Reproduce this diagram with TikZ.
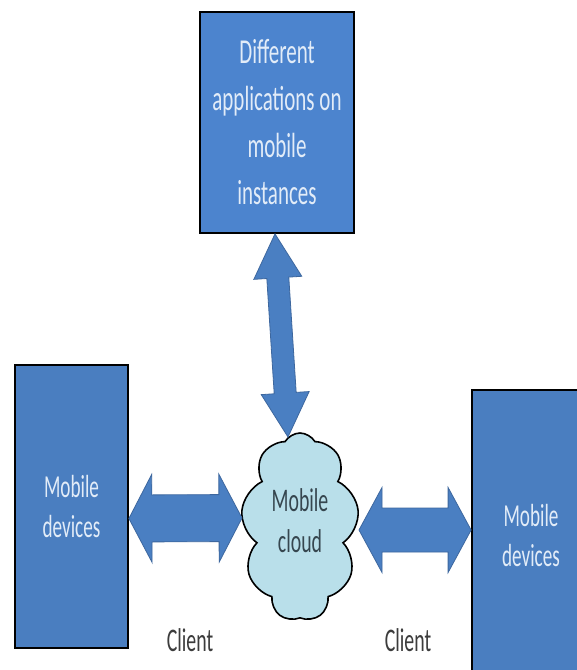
\documentclass[tikz,border=0pt]{standalone}
\usepackage{fontspec}
\setmainfont[FakeStretch=0.6]{Carlito}
\usetikzlibrary{calc,shapes.symbols}
\definecolor{boxblue}{HTML}{4A7EC0}
\definecolor{topblue}{HTML}{4C84CE}
\definecolor{arrblue}{HTML}{4A7FC2}
\definecolor{arredge}{HTML}{3D679E}
\definecolor{cloudfill}{HTML}{B9DFEA}
\definecolor{boxtext}{HTML}{E2ECF8}
\definecolor{darktext}{HTML}{3C3C3C}
\definecolor{cloudtext}{HTML}{36464F}
\tikzset{
  devbox/.style={draw=black, line width=1.8pt, fill=boxblue, text=boxtext, align=center,
    font=\fontsize{32}{40}\selectfont, inner sep=0pt},
  fatarrow/.style={draw=arredge, line width=0.8pt, fill=arrblue, line join=miter},
  lbl/.style={text=darktext, font=\fontsize{33}{36}\selectfont}
}
\newcommand\dblfatarrow[5]{%
  \draw[fatarrow] (#1)
    -- ($($(#1)!#5!(#2)$)!#4!90:(#2)$)
    -- ($($(#1)!#5!(#2)$)!#3!90:(#2)$)
    -- ($($(#2)!#5!(#1)$)!#3!-90:(#1)$)
    -- ($($(#2)!#5!(#1)$)!#4!-90:(#1)$)
    -- (#2)
    -- ($($(#2)!#5!(#1)$)!#4!90:(#1)$)
    -- ($($(#2)!#5!(#1)$)!#3!90:(#1)$)
    -- ($($(#1)!#5!(#2)$)!#3!-90:(#2)$)
    -- ($($(#1)!#5!(#2)$)!#4!-90:(#2)$)
    -- cycle;}
\begin{document}
\begin{tikzpicture}[x=1pt,y=-1pt]
\useasboundingbox (0,0) rectangle (577,670);
\clip (0,0) rectangle (577,670);
\fill[white] (0,0) rectangle (577,670);
% boxes
\node[devbox, fill=topblue, minimum width=154pt, minimum height=221pt,
  font=\fontsize{35}{47}\selectfont] (T) at (277,122.5)
  {Different\\applications on\\mobile\\instances};
\node[devbox, minimum width=113pt, minimum height=283pt] (L) at (71.5,506.5)
  {Mobile\\devices};
\node[devbox, minimum width=118pt, minimum height=292pt] (R) at (531,536)
  {Mobile\\devices};
% cloud
\node[cloud, cloud puffs=9, cloud puff arc=120, cloud ignores aspect, draw=black,
  line width=1.6pt, fill=cloudfill, minimum width=118pt, minimum height=188pt,
  inner sep=0pt] (C) at (300,527) {};
\node[lbl, text=cloudtext, align=center, font=\fontsize{33}{41}\selectfont] (Ct)
  at ([yshift=6pt]C.center) {Mobile\\cloud};
% arrow end points
\coordinate (la) at ([yshift=-12pt]L.east);
\coordinate (lb) at (242,518);
\coordinate (ra) at (359,530);
\coordinate (rb) at (R.west |- ra);
\coordinate (ta) at (T.south -| 275,0);
\coordinate (tb) at (288,437);
\dblfatarrow{la}{lb}{23.5pt}{44pt}{23pt}
\dblfatarrow{ra}{rb}{22pt}{42.5pt}{23pt}
\dblfatarrow{ta}{tb}{11pt}{24pt}{44pt}
% labels
\node[lbl] (c1) at (190,640) {Client};
\node[lbl] (c2) at (408,640) {Client};
\end{tikzpicture}
\end{document}
